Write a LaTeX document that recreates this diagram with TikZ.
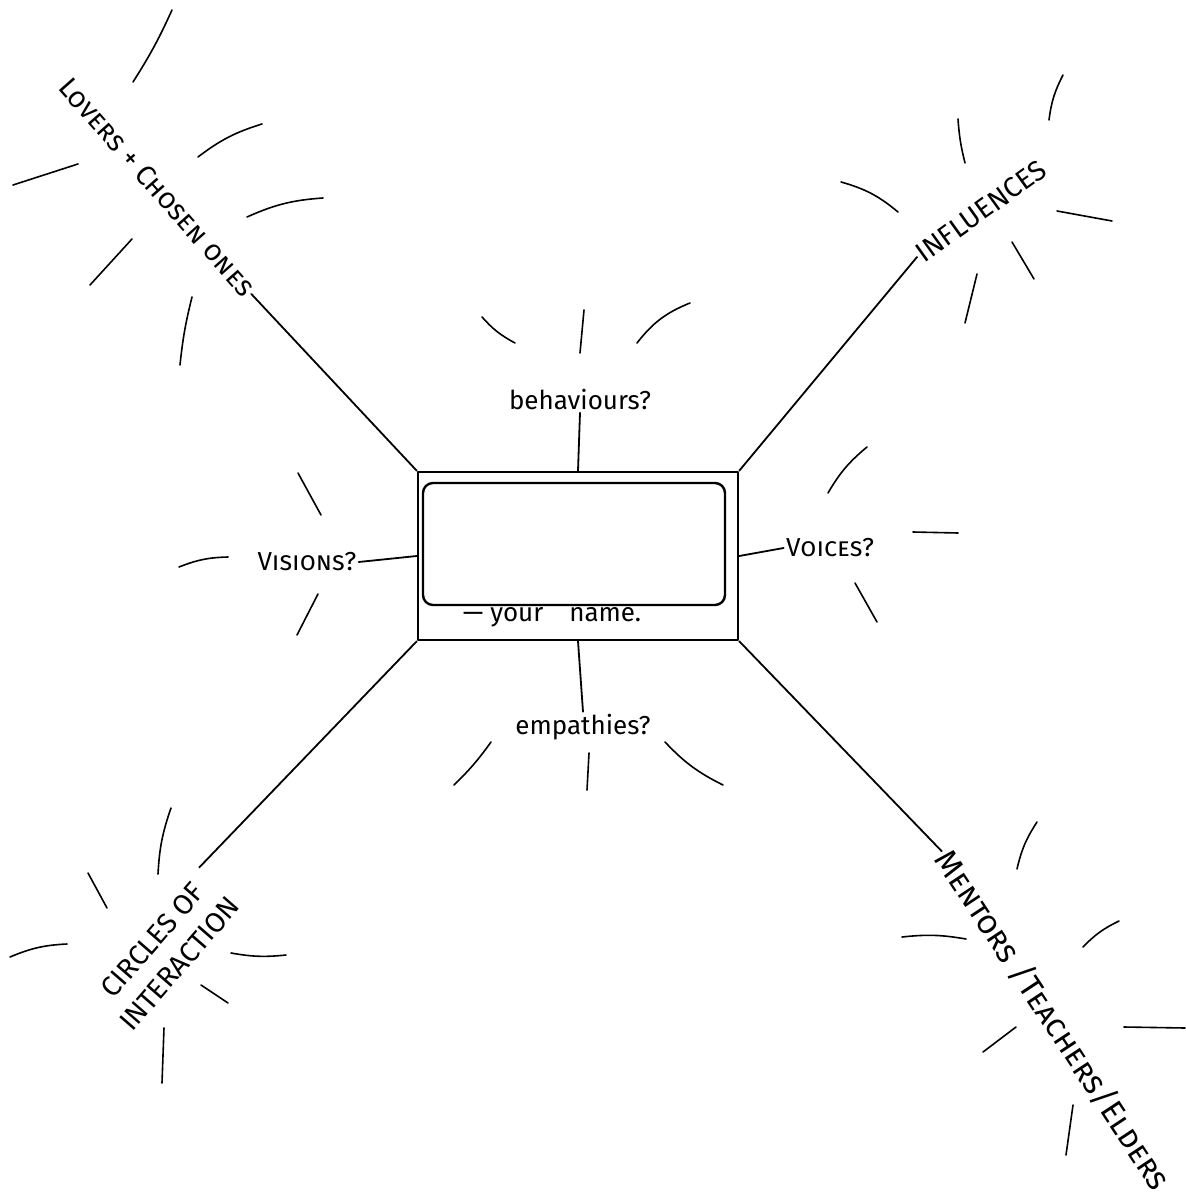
\documentclass[tikz,border=0pt]{standalone}
\usepackage{fontspec}
\setmainfont{Fira Sans}
\usetikzlibrary{positioning}

\tikzset{
  hand/.style={line width=0.9pt, line cap=round, line join=round},
  ray/.style={line width=0.8pt, line cap=round},
  lbl/.style={font=\fontsize{13}{15}\selectfont, inner sep=1pt},
  corner/.style={font=\fontsize{14}{18}\selectfont, inner sep=1pt},
}

\begin{document}
\begin{tikzpicture}[x=0.5pt,y=-0.5pt]
\useasboundingbox (0,0) rectangle (1186,1203);

% the box in the middle
\node[draw, hand, line width=1.2pt, minimum width=160pt, minimum height=84pt] (box) at (578,556) {};
\node[draw, hand, line width=1.2pt, rounded corners=5pt, minimum width=151pt, minimum height=61pt] (frame) at (574,544) {};
\node[lbl] (name) at (552,617) {--- your\quad name.};

% questions round the box
\node[lbl] (behav) at (580,400) {behaviours?};
\node[lbl] (empath) at (583,727) {empathies?};
\node[lbl] (visions) at (307,562) {\scshape Visions?};
\node[lbl] (voices) at (830,548) {\scshape Voices?};

\draw[hand] (box.north) -- (behav.south);
\draw[hand] (box.south) -- (empath.north);
\draw[hand] (box.west) -- (visions.east);
\draw[hand] (box.east) -- (voices.west);

% the four corners
\node[corner, rotate=-48.6] (lovers) at (157,187) {\scshape Lovers + Chosen ones};
\node[corner, rotate=35.7] (influ) at (981,211) {INFLUENCES};
\node[corner, rotate=49, align=center] (circles) at (166,952) {CIRCLES OF\\INTERACTION};
\node[corner, font=\fontsize{16}{18}\selectfont, rotate=-56.6] (mentors) at (1053,1020) {\scshape Mentors /Teachers/Elders};

\draw[hand] (box.north west) -- (lovers.east);
\draw[hand] (box.north east) -- (influ.west);
\draw[hand] (box.south west) -- (circles.north east);
\draw[hand] (box.south east) -- (mentors.west);

% rays
\draw[ray] (172,10) to[bend left=4] (133,82);
\draw[ray] (262,124) to[bend right=10] (198,157);
\draw[ray] (78,164) -- (13,185);
\draw[ray] (323,198) to[bend right=10] (247,217);
\draw[ray] (132,239) -- (90,285);
\draw[ray] (192,297) to[bend right=4] (180,365);

\draw[ray] (1063,75) to[bend right=10] (1049,120);
\draw[ray] (958,119) to[bend right=5] (965,163);
\draw[ray] (841,182) to[bend left=12] (898,212);
\draw[ray] (1057,211) -- (1112,221);
\draw[ray] (1012,242) -- (1034,279);
\draw[ray] (977,274) -- (965,323);

\draw[ray] (171,808) to[bend right=8] (158,874);
\draw[ray] (88,873) -- (107,908);
\draw[ray] (67,944) to[bend right=10] (10,957);
\draw[ray] (231,953) to[bend right=8] (286,955);
\draw[ray] (201,985) -- (228,1003);
\draw[ray] (164,1028) -- (162,1083);

\draw[ray] (1037,822) to[bend right=10] (1017,869);
\draw[ray] (902,937) to[bend left=8] (966,939);
\draw[ray] (1119,921) to[bend right=10] (1083,947);
\draw[ray] (1016,1027) -- (983,1052);
\draw[ray] (1124,1027) -- (1185,1028);
\draw[ray] (1073,1105) -- (1066,1155);

\draw[ray] (482,317) to[bend right=10] (515,343);
\draw[ray] (584,310) -- (580,353);
\draw[ray] (690,303) to[bend right=15] (637,343);

\draw[ray] (491,742) to[bend left=5] (454,785);
\draw[ray] (589,753) -- (587,790);
\draw[ray] (665,742) to[bend right=10] (723,785);

\draw[ray] (298,473) -- (321,515);
\draw[ray] (179,567) to[bend left=10] (228,557);
\draw[ray] (318,594) -- (297,635);

\draw[ray] (867,447) to[bend right=10] (828,493);
\draw[ray] (913,532) -- (958,533);
\draw[ray] (855,583) -- (877,622);
\end{tikzpicture}
\end{document}
